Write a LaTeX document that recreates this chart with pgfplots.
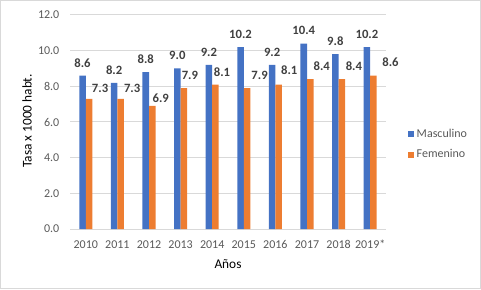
\documentclass[border=0pt]{standalone}
\usepackage{fontspec}
\setmainfont{Carlito}
\usepackage{pgfplots}
\usepackage{pgfplotstable}
\pgfplotsset{compat=1.18}
\definecolor{mblue}{HTML}{4472C4}
\definecolor{forange}{HTML}{ED7D31}
\definecolor{gridc}{HTML}{D9D9D9}
\definecolor{txt}{HTML}{595959}
\definecolor{lbl}{HTML}{404040}

\pgfplotstableread{
x y dx dy
0 8.6 0 9.6
1 8.2 0 9.6
2 8.8 0 9.6
3 9.0 0 9.6
4 9.2 0 9.6
5 10.2 0 9.6
6 9.2 0 9.6
7 10.4 0 9.6
8 9.8 0 9.6
9 10.2 0 9.6
}\masc

\pgfplotstableread{
x y dx dy
0 7.3 8.25 8.0
1 7.3 8.6 8.0
2 6.9 6.4 5.9
3 7.9 4.5 9.2
4 8.1 4.9 9.3
5 7.9 9.4 9.5
6 8.1 7.9 10.8
7 8.4 8.6 9.5
8 8.4 9.0 9.5
9 8.6 12.75 9.75
}\fem

\begin{document}
\begin{tikzpicture}
\path[use as bounding box] (0,0) rectangle (360.75pt,216.75pt);
\draw[gridc, line width=0.75pt] (0.4pt,0.4pt) rectangle (360.35pt,216.35pt);
\begin{axis}[
  at={(52.5pt,45pt)}, anchor=south west,
  scale only axis, width=237pt, height=160.5pt,
  ymin=0, ymax=12, ytick={0,2,...,12},
  xmin=-0.5, xmax=9.5, xtick={0,...,9},
  xticklabels={2010,2011,2012,2013,2014,2015,2016,2017,2018,2019*},
  ymajorgrids, grid style={gridc, line width=0.75pt},
  axis lines*=left,
  y axis line style={draw=none},
  x axis line style={gridc, line width=0.75pt, -},
  major tick length=0pt,
  /pgf/number format/assume math mode=true,
  tick label style={font=\fontsize{9}{11}\selectfont, text=txt},
  yticklabel style={/pgf/number format/fixed, /pgf/number format/fixed zerofill, /pgf/number format/precision=1, xshift=-4.5pt},
  xticklabel style={yshift=-5pt},
  xlabel={Años}, ylabel={Tasa x 1000 habt.},
  label style={font=\fontsize{10}{12}\selectfont, text=txt},
  every axis x label/.style={at={(axis description cs:0.5,-0.164)}, anchor=center},
  every axis y label/.style={at={(axis description cs:-0.136,0.505)}, anchor=center, rotate=90},
  ybar=0pt, bar width=4.9pt,
  legend style={at={(axis description cs:1.069,0.48)}, anchor=north west,
    draw=none, fill=none, font=\fontsize{9}{11}\selectfont, text=txt,
    row sep=3.5pt, inner sep=0pt, cells={anchor=west}},
  nodes near coords,
  nodes near coords style={font=\bfseries\fontsize{9.5}{11}\selectfont, text=lbl,
    /pgf/number format/fixed, /pgf/number format/fixed zerofill, /pgf/number format/precision=1},
  visualization depends on={\thisrow{dx} \as \dx},
  visualization depends on={\thisrow{dy} \as \dy},
  every node near coord/.append style={anchor=center, xshift=\dx pt, yshift=\dy pt},
]
\addplot[fill=mblue, draw=none,
  legend image code/.code={\fill[mblue] (0pt,-2.25pt) rectangle (4.5pt,2.25pt);}]
  table[x=x,y=y] {\masc};
\addlegendentry{Masculino}
\addplot[fill=forange, draw=none,
  legend image code/.code={\fill[forange] (0pt,-2.25pt) rectangle (4.5pt,2.25pt);}]
  table[x=x,y=y] {\fem};
\addlegendentry{Femenino}
\end{axis}
\end{tikzpicture}
\end{document}
